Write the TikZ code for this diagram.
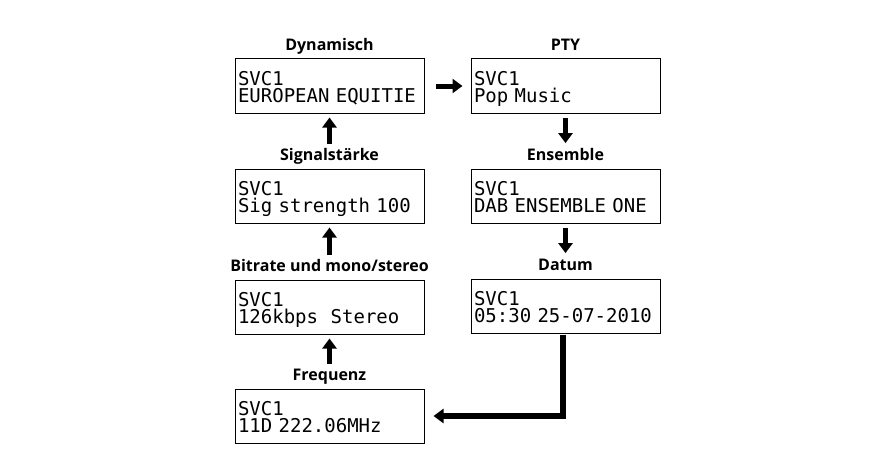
\documentclass[tikz,border=0pt]{standalone}
\usepackage{fontspec}
\setmainfont{Open Sans}
\setmonofont{DejaVu Sans Mono}
\usetikzlibrary{positioning,arrows.meta}

\begin{document}
\begin{tikzpicture}[
        x=1pt, y=-1pt,
        screen/.style={
            draw,
            line width=1pt,
            minimum width=189pt,
            minimum height=54pt,
            text width=183pt,
            inner sep=0pt,
            text height=14pt,
            text depth=16pt,
            align=left,
            font=\ttfamily\fontsize{19}{17.3}\selectfont
        },
        caption/.style={
            inner sep=0pt,
            text height=12pt,
            text depth=4pt,
            font=\bfseries\fontsize{16}{16}\selectfont
        },
        flow/.style={
            -{Triangle[length=10pt,width=14pt]},
            line width=5pt
        },
        node distance=55pt
    ]

    \useasboundingbox (0,0) rectangle (891,460);

    % left column, bottom to top in the cycle
    \node[screen] (dyn) at (329.5,86) {SVC1\\EUROPEAN EQUITIE};
    \node[screen, below=of dyn] (sig) {SVC1\\Sig strength 100};
    \node[screen, below=56pt of sig] (bit) {SVC1\\126kbps\ \ Stereo};
    \node[screen, below=54pt of bit] (freq) {SVC1\\11D 222.06MHz};

    % right column
    \node[screen, right=46pt of dyn] (pty) {SVC1\\Pop Music};
    \node[screen, below=of pty] (ens) {SVC1\\DAB ENSEMBLE ONE};
    \node[screen, below=of ens] (dat) {SVC1\\05:30 25-07-2010};

    \node[caption, above=4pt of dyn] (dynT) {Dynamisch};
    \node[caption, above=4pt of sig] (sigT) {Signalstärke};
    \node[caption, above=4pt of bit] (bitT) {Bitrate und mono/stereo};
    \node[caption, above=4pt of freq] (freqT) {Frequenz};
    \node[caption, above=4pt of pty] (ptyT) {PTY};
    \node[caption, above=4pt of ens] (ensT) {Ensemble};
    \node[caption, above=4pt of dat] (datT) {Datum};

    \draw[flow, shorten <=4pt, shorten >=4pt] (freqT) -- (bit);
    \draw[flow, shorten <=4pt, shorten >=4pt] (bitT) -- (sig);
    \draw[flow, shorten <=4pt, shorten >=4pt] (sigT) -- (dyn);
    \draw[flow, shorten <=11pt, shorten >=8pt] (dyn) -- (pty);
    \draw[flow, shorten <=4pt, shorten >=5pt] (pty) -- (ensT);
    \draw[flow, shorten <=4pt, shorten >=5pt] (ens) -- (datT);

    % back to the start
    \draw[flow, line width=6pt, line join=miter, shorten <=1pt, shorten >=9pt]
        ([xshift=-3pt]dat.south) |- (freq.east);

\end{tikzpicture}
\end{document}
